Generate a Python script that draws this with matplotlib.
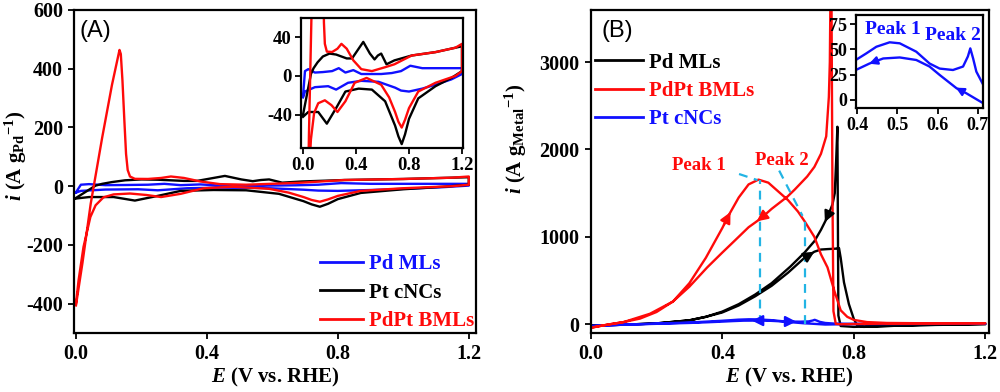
import numpy as np
import matplotlib
matplotlib.use("Agg")
import matplotlib.pyplot as plt
from matplotlib.lines import Line2D

plt.rcParams['font.family'] = ['Liberation Serif', 'DejaVu Serif']
plt.rcParams['font.weight'] = 'bold'
plt.rcParams['axes.labelweight'] = 'bold'
plt.rcParams['axes.unicode_minus'] = False
plt.rcParams['mathtext.fontset'] = 'custom'
plt.rcParams['mathtext.rm'] = 'Liberation Serif:bold'
plt.rcParams['mathtext.it'] = 'Liberation Serif:italic:bold'
plt.rcParams['mathtext.bf'] = 'Liberation Serif:bold'
plt.rcParams['axes.linewidth'] = 1.4

RED = '#ff0a0a'
BLUE = '#1010ff'
BLACK = '#000000'
CYAN = '#22b4e4'

# -------------------- (A) CV curves --------------------
# Pd MLs (blue)
pd_fwd_E = [0.0, 0.015, 0.04, 0.09, 0.15, 0.22, 0.27, 0.32, 0.38, 0.44, 0.52, 0.59, 0.67, 0.74, 0.81, 0.9, 1.0, 1.1, 1.2]
pd_fwd_i = [-21, 5, 7, 3.5, 4, 5, 8, 3.5, 6, 2, 2, 2, 3, 5, 10.5, 8, 8, 8, 8]
pd_bwd_E = [1.2, 1.12, 1.0, 0.9, 0.8, 0.74, 0.695, 0.57, 0.44, 0.34, 0.25, 0.19, 0.09, 0.015, 0.0]
pd_bwd_i = [2, -3.5, -9, -13, -16, -15, -12, -6, -5, -7, -14, -10.5, -11.5, -16, -22]

# Pt cNCs (black)
pt_fwd_E = [0.0, 0.04, 0.06, 0.08, 0.11, 0.15, 0.2, 0.25, 0.29, 0.33, 0.37, 0.405, 0.455, 0.505, 0.54, 0.565,
            0.59, 0.63, 0.69, 0.82, 1.0, 1.2]
pt_fwd_i = [-40, -12, 2, 8, 14, 20, 23, 22, 20, 18, 18, 25, 35, 23, 17, 21, 23, 12, 16, 21, 24.5, 30.5]
pt_bwd_E = [1.2, 1.12, 1.0, 0.87, 0.8, 0.77, 0.745, 0.72, 0.695, 0.62, 0.52, 0.42, 0.32, 0.25, 0.18, 0.115, 0.04, 0.0]
pt_bwd_i = [5, -2, -10.5, -23, -44, -60, -70, -62, -51, -26, -14, -13, -16, -33, -49, -37, -37, -42]

# PdPt BMLs (red)
pdpt_fwd_E = [0.0, 0.02, 0.045, 0.08, 0.11, 0.133, 0.137, 0.142, 0.148, 0.153, 0.158, 0.165, 0.18, 0.22, 0.26,
              0.29, 0.33, 0.38, 0.44, 0.52, 0.62, 0.69, 0.82, 1.0, 1.15, 1.2]
pdpt_fwd_i = [-406, -260, -60, 165, 345, 464, 450, 360, 220, 110, 55, 33, 25, 24.6, 28, 33, 28, 16, 7, 5, 9, 12,
              21, 24.5, 29, 33]
pdpt_bwd_E = [1.2, 1.15, 1.0, 0.87, 0.8, 0.77, 0.745, 0.72, 0.695, 0.65, 0.59, 0.48, 0.39, 0.32, 0.26, 0.215,
              0.165, 0.115, 0.084, 0.06, 0.044, 0.023, 0.008, 0.0]
pdpt_bwd_i = [5, 0, -7, -16, -33, -45, -53, -47, -37, -22, -9, -2, -7, -26, -37, -30, -25, -28, -38, -65, -105,
              -207, -320, -400]

# -------------------- (B) oxidation curves --------------------
# Pd MLs (black)
b_pd_fwd_E = [0.0, 0.1, 0.2, 0.3, 0.35, 0.4, 0.45, 0.5, 0.55, 0.6, 0.65, 0.68, 0.7, 0.72, 0.745, 0.755, 0.76,
              0.77, 0.785, 0.8, 0.81, 0.83, 0.9, 1.0, 1.2]
b_pd_fwd_i = [-15, -5, 10, 45, 85, 135, 215, 320, 440, 590, 760, 830, 855, 860, 865, 870, 760, 480, 230, 60,
              -10, -30, -20, -10, 5]
b_pd_bwd_E = [1.2, 1.0, 0.85, 0.8, 0.76, 0.753, 0.75, 0.746, 0.742, 0.735, 0.72, 0.7, 0.68, 0.65, 0.607, 0.55,
              0.5, 0.45, 0.4, 0.35, 0.3, 0.2, 0.1, 0.0]
b_pd_bwd_i = [0, -10, -25, -30, -20, 100, 2260, 1850, 1500, 1370, 1230, 1080, 950, 820, 660, 470, 340, 230, 145,
              85, 45, 10, -5, -15]

# PdPt BMLs (red)
b_pdpt_fwd_E = [0.0, 0.05, 0.1, 0.15, 0.2, 0.25, 0.3, 0.35, 0.4, 0.42, 0.45, 0.48, 0.51, 0.54, 0.57, 0.6, 0.63,
                0.65, 0.68, 0.7, 0.72, 0.74, 0.76, 0.78, 0.8, 0.84, 0.9, 1.0, 1.2]
b_pdpt_fwd_i = [-40, -5, 25, 65, 140, 260, 470, 760, 1100, 1250, 1450, 1600, 1655, 1620, 1520, 1420, 1290, 1180,
                1000, 800, 650, 390, 160, 85, 50, 25, 15, 12, 12]
b_pdpt_bwd_E = [1.2, 1.0, 0.85, 0.8, 0.76, 0.745, 0.738, 0.735, 0.733, 0.732, 0.729, 0.727, 0.724, 0.716, 0.7,
                0.68, 0.658, 0.62, 0.598, 0.55, 0.517, 0.48, 0.436, 0.4, 0.354, 0.3, 0.25, 0.18, 0.1, 0.05, 0.0]
b_pdpt_bwd_i = [12, 10, 5, 3, 0, 5, 150, 1500, 3000, 3800, 3800, 3000, 2600, 2150, 1950, 1800, 1690, 1540, 1460,
                1320, 1210, 1110, 950, 820, 650, 430, 260, 120, 25, -5, -40]

# Pt cNCs (blue)
b_pt_fwd_E = [0.0, 0.1, 0.2, 0.3, 0.35, 0.397, 0.423, 0.448, 0.481, 0.506, 0.547, 0.58, 0.605, 0.638, 0.663,
              0.675, 0.681, 0.688, 0.696, 0.713, 0.74, 0.8, 1.0, 1.2]
b_pt_fwd_i = [-20, -5, 8, 20, 30, 39.5, 46, 52.6, 57, 56, 47.7, 36, 31, 29.6, 33, 43, 51, 41, 28, 15, 8, 5, 5, 6]
b_pt_bwd_E = [1.2, 1.0, 0.8, 0.713, 0.671, 0.647, 0.605, 0.58, 0.547, 0.506, 0.465, 0.431, 0.397, 0.35, 0.3,
              0.2, 0.1, 0.0]
b_pt_bwd_i = [6, 4, 2, -3.3, 6.6, 11.5, 24.7, 33, 39.5, 42, 41, 36, 29.6, 22, 15, 5, -5, -20]

peak_E = [0.515, 0.65]
peak_labels = ['Peak 1', 'Peak 2']


def loop(e1, i1, e2, i2):
    return np.r_[e1, e2], np.r_[i1, i2]


def arrow_on(ax, e, i, at, step, color, ms=16):
    e = np.asarray(e, float)
    i = np.asarray(i, float)
    if e[0] > e[-1]:
        e, i = e[::-1], i[::-1]
    y1 = np.interp(at, e, i)
    y0 = np.interp(at - step, e, i)
    ax.annotate('', xy=(at, y1), xytext=(at - step, y0),
                arrowprops=dict(arrowstyle='-|>', color=color, lw=1.6, mutation_scale=ms,
                                shrinkA=0, shrinkB=0))


def style(ax, size=14.5):
    ax.tick_params(direction='out', length=4.5, width=1.3, labelsize=size, pad=3.5)
    for s in ax.spines.values():
        s.set_linewidth(1.6)


fig = plt.figure(figsize=(10, 3.92), dpi=100)

# ---------- panel A ----------
axA = fig.add_axes([0.074, 0.1505, 0.402, 0.824])
curvesA = [(pd_fwd_E, pd_fwd_i, pd_bwd_E, pd_bwd_i, BLUE),
           (pt_fwd_E, pt_fwd_i, pt_bwd_E, pt_bwd_i, BLACK),
           (pdpt_fwd_E, pdpt_fwd_i, pdpt_bwd_E, pdpt_bwd_i, RED)]
for e1, i1, e2, i2, c in curvesA:
    x, y = loop(e1, i1, e2, i2)
    axA.plot(x, y, color=c, lw=1.7)
axA.set_xlim(-0.006, 1.222)
axA.set_ylim(-500, 600)
axA.set_xticks([0.0, 0.4, 0.8, 1.2])
axA.set_yticks([-400, -200, 0, 200, 400, 600])
axA.set_xlabel(r'$E$ (V vs. RHE)', fontsize=15, labelpad=1)
axA.set_ylabel(r'$i$ (A g$_{\rm Pd}$$^{-1}$)', fontsize=15)
axA.yaxis.set_label_coords(-0.112, 0.55)
style(axA)
axA.text(0.014, 0.968, '(A)', transform=axA.transAxes, family='Liberation Sans', fontweight='normal',
         fontsize=17, va='top', ha='left')
handlesA = [Line2D([], [], color=BLUE, lw=2), Line2D([], [], color=BLACK, lw=2), Line2D([], [], color=RED, lw=2)]
axA.legend(handlesA, ['Pd MLs', 'Pt cNCs', 'PdPt BMLs'], loc='lower right', frameon=False,
           fontsize=15, handlelength=2.1, handletextpad=0.25, labelspacing=0.4, borderpad=0.1,
           labelcolor=[BLUE, BLACK, RED], bbox_to_anchor=(1.0, 0.0), borderaxespad=0.0)

insA = fig.add_axes([0.301, 0.6224, 0.162, 0.3316])
for e1, i1, e2, i2, c in curvesA:
    x, y = loop(e1, i1, e2, i2)
    insA.plot(x, y, color=c, lw=1.7)
insA.set_xlim(-0.015, 1.2075)
insA.set_ylim(-74, 59.5)
insA.set_xticks([0.0, 0.4, 0.8, 1.2])
insA.set_yticks([-40, 0, 40])
style(insA, 13.5)
insA.tick_params(pad=2)

# ---------- panel B ----------
axB = fig.add_axes([0.5907, 0.1505, 0.398, 0.825])
curvesB = [(b_pd_fwd_E, b_pd_fwd_i, b_pd_bwd_E, b_pd_bwd_i, BLACK),
           (b_pt_fwd_E, b_pt_fwd_i, b_pt_bwd_E, b_pt_bwd_i, BLUE),
           (b_pdpt_fwd_E, b_pdpt_fwd_i, b_pdpt_bwd_E, b_pdpt_bwd_i, RED)]
for e1, i1, e2, i2, c in curvesB:
    x, y = loop(e1, i1, e2, i2)
    axB.plot(x, y, color=c, lw=1.7)

# peak markers
for pe in peak_E:
    top = np.interp(pe, b_pdpt_fwd_E, b_pdpt_fwd_i)
    axB.plot([pe, pe], [0, top], ls='--', color=CYAN, lw=1.6, dashes=(4, 3))
p1 = np.interp(peak_E[0], b_pdpt_fwd_E, b_pdpt_fwd_i)
p2 = np.interp(peak_E[1], b_pdpt_fwd_E, b_pdpt_fwd_i)
axB.plot([0.451, peak_E[0] - 0.008], [1719, p1], ls='--', color=CYAN, lw=1.6, dashes=(4, 3))
axB.plot([0.573, peak_E[1] - 0.006], [1758, p2 + 60], ls='--', color=CYAN, lw=1.6, dashes=(4, 3))
axB.text(0.328, 1821, peak_labels[0], color=RED, fontsize=13.5, ha='center', va='center')
axB.text(0.582, 1870, peak_labels[1], color=RED, fontsize=13.5, ha='center', va='center')

arrow_on(axB, b_pdpt_fwd_E, b_pdpt_fwd_i, 0.425, 0.02, RED)
arrow_on(axB, b_pdpt_bwd_E, b_pdpt_bwd_i, 0.505, -0.02, RED)
arrow_on(axB, b_pd_fwd_E, b_pd_fwd_i, 0.68, 0.02, BLACK)
arrow_on(axB, b_pd_bwd_E, b_pd_bwd_i, 0.712, -0.015, BLACK)
arrow_on(axB, b_pt_bwd_E, b_pt_bwd_i, 0.49, -0.02, BLUE)
arrow_on(axB, b_pt_fwd_E, b_pt_fwd_i, 0.625, 0.02, BLUE)

axB.set_xlim(0.0, 1.21)
axB.set_ylim(-100, 3600)
axB.set_xticks([0.0, 0.4, 0.8, 1.2])
axB.set_yticks([0, 1000, 2000, 3000])
axB.set_xlabel(r'$E$ (V vs. RHE)', fontsize=15, labelpad=1)
axB.set_ylabel(r'$i$ (A g$_{\rm Metal}$$^{-1}$)', fontsize=15)
axB.yaxis.set_label_coords(-0.155, 0.6)
style(axB)
axB.text(0.026, 0.968, '(B)', transform=axB.transAxes, family='Liberation Sans', fontweight='normal',
         fontsize=17, va='top', ha='left')
handlesB = [Line2D([], [], color=BLACK, lw=2), Line2D([], [], color=RED, lw=2), Line2D([], [], color=BLUE, lw=2)]
axB.legend(handlesB, ['Pd MLs', 'PdPt BMLs', 'Pt cNCs'], loc='upper left', frameon=False,
           fontsize=15, handlelength=2.3, handletextpad=0.3, labelspacing=0.4, borderpad=0.2,
           labelcolor=[BLACK, RED, BLUE], bbox_to_anchor=(0.0, 0.88), borderaxespad=0.0)

insB = fig.add_axes([0.856, 0.7245, 0.127, 0.2372])
x, y = loop(b_pt_fwd_E, b_pt_fwd_i, b_pt_bwd_E, b_pt_bwd_i)
insB.plot(x, y, color=BLUE, lw=1.7)
arrow_on(insB, b_pt_bwd_E, b_pt_bwd_i, 0.43, -0.015, BLUE, ms=12)
arrow_on(insB, b_pt_bwd_E, b_pt_bwd_i, 0.645, -0.015, BLUE, ms=12)
insB.text(0.49, 70, peak_labels[0], color=BLUE, fontsize=14, ha='center', va='center')
insB.text(0.637, 64, peak_labels[1], color=BLUE, fontsize=14, ha='center', va='center')
insB.set_xlim(0.3975, 0.7125)
insB.set_ylim(-8, 84)
insB.set_xticks([0.4, 0.5, 0.6, 0.7])
insB.set_yticks([0, 25, 50, 75])
style(insB, 13)
insB.tick_params(pad=2)

fig.savefig('out.png', dpi=100)
